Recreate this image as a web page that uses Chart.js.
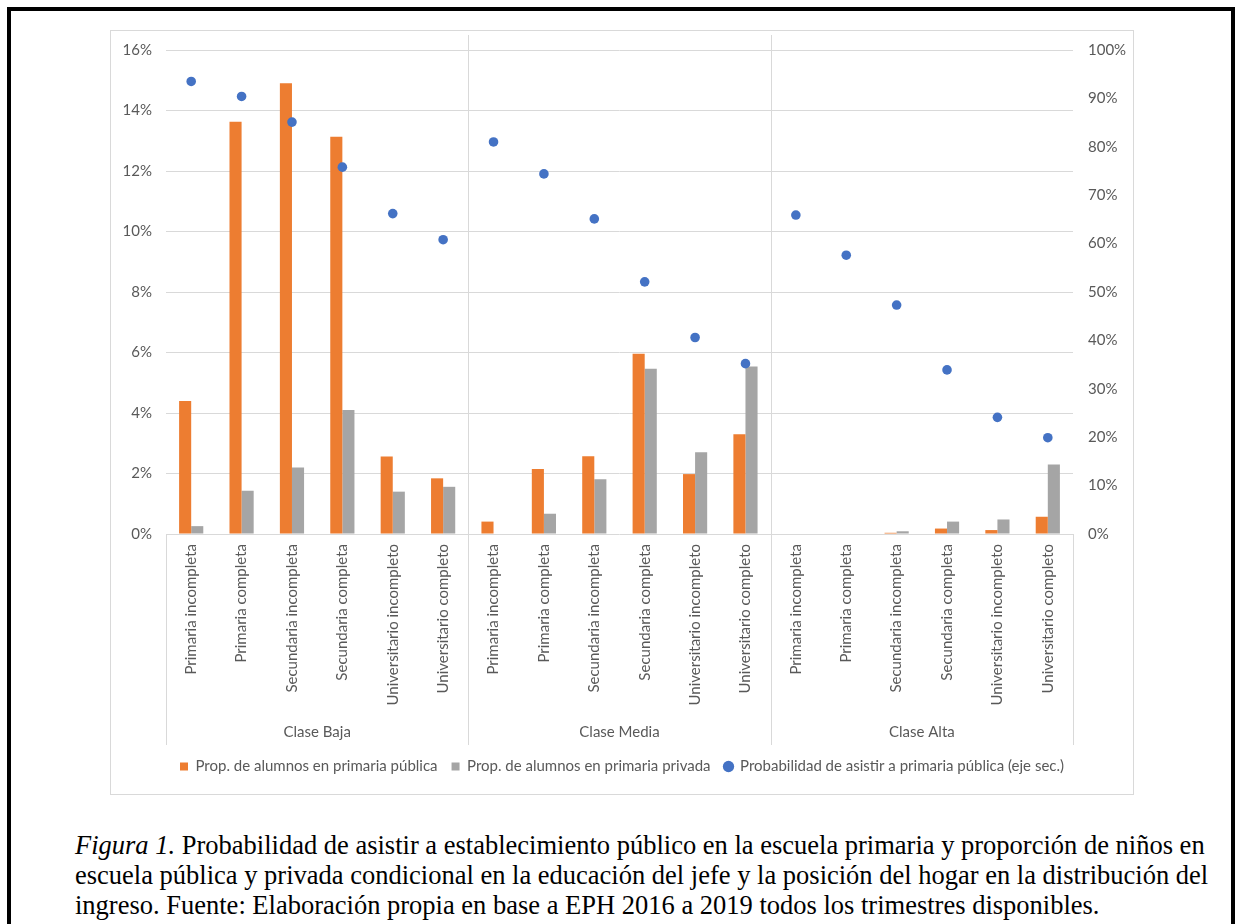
<!DOCTYPE html>
<html>
<head>
<meta charset="utf-8">
<script src="https://cdn.jsdelivr.net/npm/chart.js@4.4.1/dist/chart.umd.min.js"></script>
<style>
  html, body { margin: 0; padding: 0; background: #fff; }
  body { width: 1239px; height: 924px; position: relative; overflow: hidden; }
  #frame { position: absolute; left: 7px; top: 7px; width: 1220px; height: 1000px; border: 4px solid #000; }
  #box { position: absolute; left: 110px; top: 30px; width: 1022px; height: 763px; border: 1px solid #d9d9d9; }
  #box canvas { position: absolute; left: 0; top: 0; }
  #caption { position: absolute; left: 75px; top: 830px; font-family: "Liberation Serif", serif; font-size: 26.5px; line-height: 30px; color: #000; white-space: nowrap; }
</style>
</head>
<body>
<div id="frame"></div>
<div id="box"><canvas id="chart" width="1022" height="763"></canvas></div>
<div id="caption"><i>Figura 1.</i> Probabilidad de asistir a establecimiento público en la escuela primaria y proporción de niños en<br>escuela pública y privada condicional en la educación del jefe y la posición del hogar en la distribución del<br>ingreso. Fuente: Elaboración propia en base a EPH 2016 a 2019 todos los trimestres disponibles.</div>
<script>
const niveles = ['Primaria incompleta', 'Primaria completa', 'Secundaria incompleta', 'Secundaria completa', 'Universitario incompleto', 'Universitario completo'];
const clases = ['Clase Baja', 'Clase Media', 'Clase Alta'];

// Prop. de alumnos en primaria publica (%), eje izquierdo
const publica = [4.4, 13.63, 14.9, 13.13, 2.56, 1.84,
                 0.41, 2.15, 2.57, 5.96, 1.98, 3.3,
                 0, 0, 0.04, 0.18, 0.13, 0.57];
// Prop. de alumnos en primaria privada (%)
const privada = [0.26, 1.43, 2.2, 4.1, 1.4, 1.56,
                 0, 0.67, 1.81, 5.46, 2.7, 5.54,
                 0, 0, 0.09, 0.41, 0.48, 2.3];
// Probabilidad de asistir a primaria publica (%), eje secundario
const probabilidad = [93.5, 90.4, 85.1, 75.8, 66.2, 60.8,
                      81, 74.4, 65.1, 52.1, 40.6, 35.2,
                      65.9, 57.6, 47.3, 33.9, 24.1, 19.9];

const labels = clases.flatMap(() => niveles);
const gris = '#595959';
const linea = '#d9d9d9';
const fuente = { family: 'Lato', size: 15 };

// group labels and separators under the category axis
const gruposPlugin = {
  id: 'grupos',
  afterDraw(chart) {
    const ctx = chart.ctx;
    const x = chart.scales.x;
    const area = chart.chartArea;
    const n = niveles.length;
    const paso = x.getPixelForValue(1) - x.getPixelForValue(0);
    ctx.save();
    ctx.strokeStyle = linea;
    ctx.lineWidth = 1;
    for (let g = 0; g <= clases.length; g++) {
      const px = Math.round(x.getPixelForValue(g * n) - paso / 2) + 0.5;
      const top = (g === 0 || g === clases.length) ? area.bottom : area.top - 15;
      ctx.beginPath();
      ctx.moveTo(px, top);
      ctx.lineTo(px, x.bottom);
      ctx.stroke();
    }
    ctx.fillStyle = gris;
    ctx.font = '15px Lato';
    ctx.textAlign = 'center';
    ctx.textBaseline = 'middle';
    clases.forEach((c, g) => {
      const cx = (x.getPixelForValue(g * n) + x.getPixelForValue(g * n + n - 1)) / 2;
      ctx.fillText(c, cx, x.bottom - 13);
    });
    ctx.restore();
  }
};

function ajustarEje(ancho) {
  return scale => {
    scale.width = ancho;
    scale.paddingTop = 0;
    scale.paddingBottom = 0;
  };
}

new Chart(document.getElementById('chart').getContext('2d'), {
  type: 'bar',
  data: {
    labels: labels,
    datasets: [
      { label: 'Prop. de alumnos en primaria pública', data: publica, backgroundColor: '#ED7D31', yAxisID: 'y', pointStyle: 'rect' },
      { label: 'Prop. de alumnos en primaria privada', data: privada, backgroundColor: '#A5A5A5', yAxisID: 'y', pointStyle: 'rect' },
      { type: 'line', label: 'Probabilidad de asistir a primaria pública (eje sec.)', data: probabilidad, yAxisID: 'y1',
        showLine: false, pointStyle: 'circle', pointRadius: 4.8, backgroundColor: '#4472C4', borderColor: '#4472C4', borderWidth: 0, order: -1 }
    ]
  },
  options: {
    responsive: false,
    animation: false,
    layout: { autoPadding: false, padding: { top: 19, bottom: 10, left: 0, right: 0 } },
    datasets: { bar: { categoryPercentage: 0.48, barPercentage: 1 } },
    scales: {
      x: {
        grid: { display: false, drawTicks: false },
        border: { display: false },
        ticks: { autoSkip: false, minRotation: 90, maxRotation: 90, padding: 10, color: gris, font: fuente },
        afterFit(scale) { scale.height = 211; }
      },
      y: {
        position: 'left', min: 0, max: 16,
        grid: { color: linea, drawTicks: false },
        border: { display: false },
        ticks: { stepSize: 2, padding: 14, color: gris, font: fuente, callback: v => v + '%' },
        afterFit: ajustarEje(55)
      },
      y1: {
        position: 'right', min: 0, max: 100,
        grid: { display: false, drawTicks: false },
        border: { display: false },
        ticks: { stepSize: 10, padding: 15, color: gris, font: fuente, callback: v => v + '%' },
        afterFit: ajustarEje(60)
      }
    },
    plugins: {
      legend: {
        position: 'bottom',
        labels: {
          usePointStyle: true, boxWidth: 8, boxHeight: 8, padding: 14, color: gris, font: fuente,
          sort: (a, b) => a.datasetIndex - b.datasetIndex
        }
      },
      tooltip: { enabled: false }
    }
  },
  plugins: [gruposPlugin]
});
</script>
</body>
</html>
